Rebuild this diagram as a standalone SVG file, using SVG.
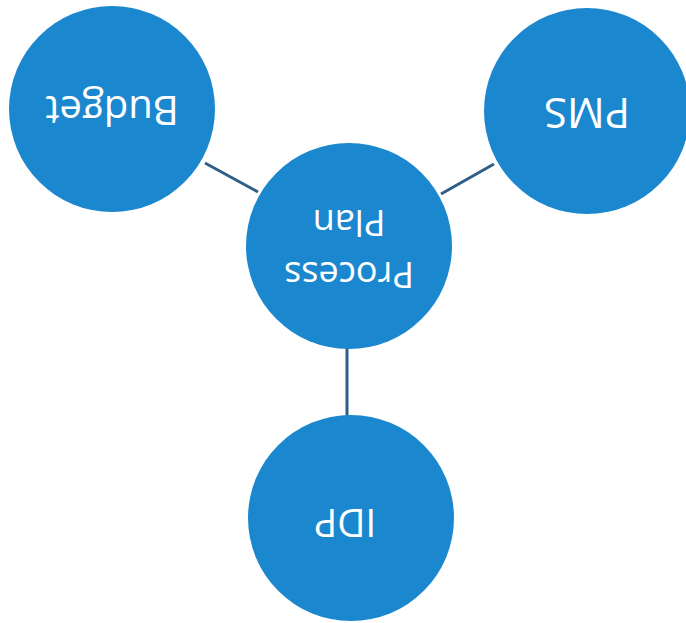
<svg xmlns="http://www.w3.org/2000/svg" width="686" height="623" viewBox="0 0 686 623">
<style>
.node{fill:#1b87cf}
.lbl{fill:#ffffff;font-family:"Open Sans","Noto Sans","Liberation Sans",sans-serif;text-anchor:middle}
.conn{stroke:#2f5f86;stroke-width:3;fill:none}
</style>
<rect width="686" height="623" fill="#ffffff"/>
<g id="connectors">
<line class="conn" x1="205" y1="163" x2="258" y2="192"/>
<line class="conn" x1="494" y1="164" x2="441" y2="194"/>
<line class="conn" x1="347" y1="347" x2="347" y2="416"/>
</g>
<g id="budget">
<circle class="node" cx="112" cy="109" r="103"/>
<text class="lbl" x="112" y="125" font-size="40" transform="rotate(180 112 110.5)">Budget</text>
</g>
<g id="pms">
<circle class="node" cx="587" cy="111" r="103"/>
<text class="lbl" x="587" y="128" font-size="42" transform="rotate(180 587 113)">PMS</text>
</g>
<g id="process-plan">
<circle class="node" cx="349" cy="246" r="103"/>
<text class="lbl" font-size="36" transform="rotate(180 349 246)"><tspan x="349" y="230">Process</tspan><tspan x="349" y="282">Plan</tspan></text>
</g>
<g id="idp">
<circle class="node" cx="351" cy="518" r="103"/>
<text class="lbl" x="345" y="536" font-size="39" transform="rotate(180 345 522.5)">IDP</text>
</g>
</svg>
